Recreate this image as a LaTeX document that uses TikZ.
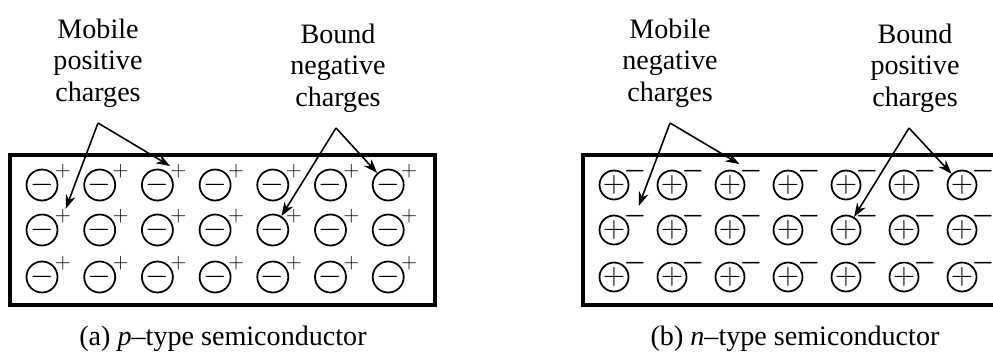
\documentclass[tikz,border=0pt]{standalone}
\usepackage{amsmath}
\usepackage{fontspec}
\setmainfont{Liberation Serif}
\usetikzlibrary{arrows.meta}
\tikzset{
    ion/.style={circle,draw,line width=1pt,minimum size=0.54cm,inner sep=0pt,font=\fontsize{18}{18}\selectfont},
    sign/.style={inner sep=0pt,font=\fontsize{13}{13}\selectfont},
    crystal/.style={draw,line width=2.3pt},
    pointer/.style={-{Stealth[length=2.8mm,width=2mm]},line width=0.9pt},
    note/.style={align=center,font=\fontsize{16}{18}\selectfont},
    caption/.style={font=\fontsize{16}{18}\selectfont}
}

\begin{document}
\begin{tikzpicture}[x=0.02cm,y=-0.02cm]
\clip (0,0) rectangle (993,356);

% (a) p-type: bound acceptors, mobile holes
\draw[crystal] (10,155) rectangle (435,305);
\foreach \r/\y in {1/185,2/230,3/277}{
  \foreach \c in {1,...,7}{
    \node[ion] (a-\r-\c) at ({42+57.7*(\c-1)},\y) {$-$};
    \node[sign] (h-\r-\c) at ({63+57.7*(\c-1)},\y-14) {$+$};
  }
}
\node[note] (mobA) at (98,63) {Mobile\\positive\\charges};
\node[note] (bndA) at (338,68) {Bound\\negative\\charges};
\coordinate (mobA-apex) at (98,123);
\coordinate (bndA-apex) at (336,128);
\draw[pointer] (mobA-apex) -- (h-2-1);
\draw[pointer] (mobA-apex) -- (h-1-3);
\draw[pointer] (bndA-apex) -- (a-1-7);
\draw[pointer] (bndA-apex) -- (a-2-5);
\node[caption] (capA) at (223,339) {(a) \textit{p}–type semiconductor};

% (b) n-type: bound donors, mobile electrons
\draw[crystal] (583,155) rectangle (1010,305);
\foreach \r/\y in {1/185,2/230,3/277}{
  \foreach \c in {1,...,7}{
    \node[ion] (b-\r-\c) at ({614+58*(\c-1)},\y) {$+$};
    \node[sign,font=\fontsize{15}{15}\selectfont] (e-\r-\c) at ({635+58*(\c-1)},\y-14) {$\boldsymbol{-}$};
  }
}
\node[note] (mobB) at (670,63) {Mobile\\negative\\charges};
\node[note] (bndB) at (915,68) {Bound\\positive\\charges};
\coordinate (mobB-apex) at (670,123);
\coordinate (bndB-apex) at (909,128);
\draw[pointer] (mobB-apex) -- (e-2-1);
\draw[pointer] (mobB-apex) -- (e-1-3);
\draw[pointer] (bndB-apex) -- (b-1-7);
\draw[pointer] (bndB-apex) -- (b-2-5);
\node[caption] (capB) at (795,339) {(b) \textit{n}–type semiconductor};
\end{tikzpicture}
\end{document}
